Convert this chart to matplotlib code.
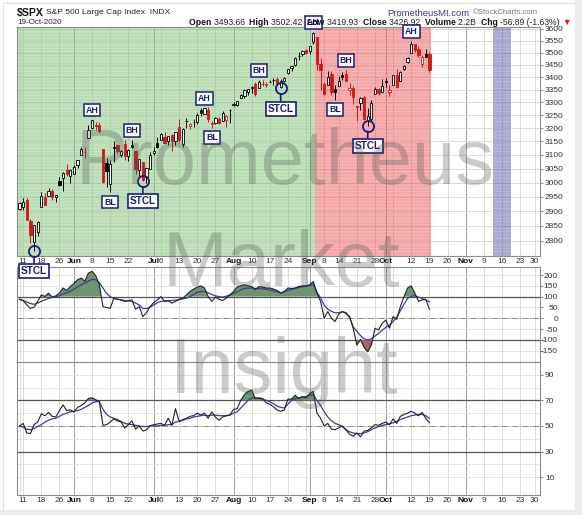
import numpy as np
import pandas as pd
import matplotlib
matplotlib.use("Agg")
import matplotlib.pyplot as plt
from matplotlib.patches import Rectangle
from matplotlib.ticker import FixedLocator, NullLocator

plt.rcParams['font.family'] = ['Liberation Sans', 'DejaVu Sans']
plt.rcParams['hatch.linewidth'] = 0.6

W, H = 582, 515

# trading calendar (data ends 19-Oct, axis runs on to 30-Nov)
holidays = ["2020-05-25", "2020-07-03", "2020-09-07", "2020-11-26"]
days = pd.bdate_range("2020-05-08", "2020-11-30", freq="C", holidays=holidays)

opens = [2908.83, 2915.46, 2939.50, 2865.86, 2794.54, 2829.95, 2913.86, 2948.59, 2953.63, 2969.95, 2948.05, 3004.08, 3015.65, 3046.61, 3025.17,
         3031.48, 3064.78, 3098.90, 3111.56, 3163.84, 3199.92, 3213.32, 3213.42, 3123.53, 3071.04, 2993.76, 3131.00, 3136.13, 3101.64, 3140.29, 3094.42, 3138.70, 3114.40, 3046.60, 3073.20, 3018.59, 3050.20,
         3105.92, 3143.64, 3155.29, 3166.44, 3153.07, 3176.17, 3152.47, 3205.08, 3141.11, 3225.98, 3208.36, 3224.21, 3224.29, 3268.52, 3254.86, 3271.64, 3218.58, 3219.84, 3234.27, 3227.22, 3231.76, 3270.45,
         3288.26, 3289.92, 3317.37, 3323.17, 3340.05, 3356.04, 3370.34, 3355.46, 3372.95, 3368.66, 3380.86, 3387.04, 3392.51, 3360.48, 3386.01, 3418.09, 3435.95, 3449.97, 3485.14, 3494.69, 3509.73,
         3507.44, 3543.76, 3564.74, 3453.60, 3371.88, 3369.82, 3412.56, 3352.70, 3363.56, 3407.73, 3411.23, 3346.86, 3357.38, 3285.57, 3295.75, 3320.11, 3226.14, 3236.66, 3333.90, 3350.92, 3341.21,
         3385.87, 3338.94, 3367.27, 3408.74, 3384.56, 3434.28, 3459.67, 3500.02, 3534.01, 3515.47, 3453.72, 3493.50, 3493.66]
highs = [2932.16, 2944.25, 2945.82, 2874.14, 2852.80, 2865.01, 2968.09, 2964.21, 2980.29, 2978.50, 2956.76, 3021.72, 3036.25, 3068.67, 3049.17,
         3062.18, 3081.07, 3130.94, 3128.91, 3211.72, 3233.13, 3222.71, 3223.27, 3123.53, 3088.42, 3079.76, 3153.45, 3141.16, 3120.00, 3155.53, 3120.92, 3154.90, 3115.01, 3086.25, 3073.73, 3053.89, 3111.51,
         3128.44, 3165.81, 3182.59, 3184.15, 3171.80, 3179.78, 3186.82, 3235.32, 3200.95, 3238.28, 3220.39, 3233.52, 3258.61, 3277.29, 3279.32, 3279.99, 3227.26, 3241.43, 3243.72, 3264.74, 3250.92, 3272.17,
         3302.73, 3306.84, 3330.77, 3351.03, 3352.54, 3363.29, 3381.01, 3387.89, 3387.24, 3378.51, 3387.59, 3395.06, 3399.54, 3390.80, 3399.96, 3432.09, 3444.21, 3481.07, 3501.38, 3509.23, 3514.77,
         3528.03, 3588.11, 3564.85, 3479.15, 3379.97, 3424.77, 3425.55, 3368.95, 3402.93, 3419.48, 3428.92, 3375.17, 3362.27, 3285.57, 3320.31, 3323.35, 3278.70, 3306.88, 3360.74, 3357.92, 3393.56,
         3397.18, 3369.10, 3409.57, 3431.56, 3426.26, 3447.28, 3482.34, 3549.85, 3534.01, 3527.94, 3489.08, 3515.76, 3502.42]
lows = [2902.88, 2903.44, 2869.59, 2793.15, 2766.64, 2816.78, 2913.86, 2922.35, 2953.63, 2938.57, 2933.59, 2988.17, 2969.75, 3023.40, 2998.61,
        3031.48, 3051.64, 3098.90, 3090.41, 3163.84, 3196.00, 3193.11, 3181.49, 2999.49, 2984.47, 2965.66, 3076.06, 3108.03, 3093.51, 3083.11, 3079.39, 3127.12, 3032.13, 3024.01, 3004.63, 2999.74, 3047.83,
        3101.17, 3124.52, 3155.29, 3142.93, 3136.53, 3115.70, 3136.22, 3149.43, 3127.66, 3200.76, 3198.59, 3205.65, 3215.16, 3247.77, 3253.10, 3222.66, 3200.05, 3214.25, 3216.17, 3227.22, 3204.13, 3220.26,
        3284.53, 3286.37, 3317.37, 3318.14, 3328.72, 3335.44, 3326.44, 3355.46, 3363.35, 3361.64, 3379.22, 3370.15, 3369.66, 3354.69, 3379.31, 3413.13, 3425.84, 3444.15, 3468.35, 3484.32, 3493.25,
        3494.60, 3535.23, 3427.41, 3349.63, 3329.27, 3366.84, 3329.25, 3310.47, 3363.56, 3389.25, 3384.45, 3328.82, 3292.40, 3229.10, 3270.95, 3232.57, 3209.45, 3228.44, 3332.91, 3327.54, 3340.47,
        3361.39, 3323.69, 3367.27, 3354.54, 3384.56, 3428.15, 3458.07, 3499.61, 3500.86, 3480.55, 3440.89, 3480.45, 3419.93]
closes = [2929.80, 2930.32, 2870.12, 2820.00, 2852.50, 2863.70, 2953.91, 2922.94, 2971.61, 2948.51, 2955.45, 2991.77, 3036.13, 3029.73, 3044.31,
          3055.73, 3080.82, 3122.87, 3112.35, 3193.93, 3232.39, 3207.18, 3190.14, 3002.10, 3041.31, 3066.59, 3124.74, 3113.49, 3115.34, 3097.74, 3117.86, 3131.29, 3050.33, 3083.76, 3009.05, 3053.24, 3100.29,
          3115.86, 3130.01, 3179.72, 3145.32, 3169.94, 3152.05, 3185.04, 3155.22, 3197.52, 3226.56, 3215.57, 3224.73, 3251.84, 3257.30, 3276.02, 3235.66, 3215.63, 3239.41, 3218.44, 3258.44, 3246.22, 3271.12,
          3294.61, 3306.51, 3327.77, 3349.16, 3351.28, 3360.47, 3333.69, 3380.35, 3373.43, 3372.85, 3381.99, 3389.78, 3374.85, 3385.51, 3397.16, 3431.28, 3443.62, 3478.73, 3484.55, 3508.01, 3500.31,
          3526.65, 3580.84, 3455.06, 3426.96, 3331.84, 3398.96, 3339.19, 3340.97, 3383.54, 3401.20, 3385.49, 3357.01, 3319.47, 3281.06, 3315.57, 3236.92, 3246.59, 3298.46, 3351.60, 3335.47, 3363.00,
          3380.80, 3348.42, 3408.60, 3360.97, 3419.44, 3446.83, 3477.14, 3534.22, 3511.93, 3488.67, 3483.34, 3483.81, 3426.92]
prev_close = 2881.19

cci = [88, 82, 62, 46, 51, 78, 108, 101, 116, 98, 104, 116, 140, 129, 147, 160, 178, 186, 171, 209, 217, 197, 155, 54, 50, 46, 93, 88, 85, 78,
       82, 85, 42, 54, 8, 26, 54, 73, 85, 100, 78, 82, 70, 78, 88, 93, 108, 124, 135, 144, 150, 140, 101, 78, 98, 88, 82, 93, 108, 124,
       144, 150, 155, 150, 147, 132, 147, 144, 140, 140, 135, 129, 116, 124, 140, 138, 140, 147, 150, 150, 155, 170, 116, 78, 0, 31, 0, -15, 20, 31,
       26, 8, -46, -124, -98, -135, -155, -124, -46, -54, -23, -8, -46, 8, -5, 54, 100, 140, 150, 116, 78, 85, 88, 42]
cci_avg = [88, 82, 75, 68, 65, 70, 78, 85, 92, 96, 100, 104, 112, 118, 124, 135, 145, 155, 162, 172, 180, 178, 165, 140, 115, 100, 92, 88, 85, 82,
           80, 78, 70, 62, 45, 45, 52, 62, 72, 78, 80, 81, 82, 84, 86, 90, 93, 100, 110, 120, 124, 124, 118, 110, 104, 100, 98, 102, 108, 115,
           122, 132, 138, 140, 140, 138, 137, 136, 135, 130, 126, 122, 118, 122, 128, 133, 138, 142, 145, 148, 150, 155, 120, 95, 60, 42, 32, 25, 26, 30,
           22, 5, -40, -60, -80, -95, -100, -95, -82, -70, -55, -42, -32, -15, 5, 35, 65, 92, 102, 104, 98, 92, 85, 76]
rsi = [50, 52, 44.5, 44, 51, 53, 59.5, 58, 60.5, 57.5, 57, 62, 66.5, 62, 62.5, 61, 64.5, 66, 68, 71.5, 72, 70.5, 69, 50.5, 51, 53, 55.5, 54, 53, 48.5,
       51, 54, 47.5, 50, 46, 47, 50, 51, 51.5, 52, 50.5, 56, 50.5, 63.5, 53.5, 55, 56, 57.5, 58, 60, 58.5, 60, 56, 61, 57, 54.5, 57, 58, 58.5, 63,
       63.5, 70, 74.5, 77, 78, 71.5, 72, 71.5, 68, 67, 65, 62.5, 61.5, 62.5, 71, 71, 74, 71.5, 73, 72, 75.5, 77, 60, 56, 50, 52, 47.5, 47, 48.5, 50,
       47, 43.5, 42, 44.5, 41.5, 46, 46.5, 48.5, 51, 50.5, 52, 53, 51, 55.5, 52, 57.5, 59, 60, 61.5, 60, 58, 60.5, 56, 52.5]
rsi_avg = [50, 49, 47.5, 47, 48, 49.5, 51, 53, 54.5, 55.5, 56, 57.5, 59, 60, 61, 61.5, 62, 63, 64.5, 66, 68, 69, 69, 63, 59, 57, 56, 55, 53.5, 52,
           51.5, 51, 50.5, 50, 49.5, 49.5, 50, 50, 50, 50.5, 50.5, 51, 51, 53, 53.5, 54.5, 55.5, 56, 57, 57.5, 58, 58.5, 58, 58.5, 58.5, 58, 58, 58, 58.5, 60,
           61, 64, 67, 70, 72, 72, 71.5, 71, 70, 69, 67.5, 65.5, 64.5, 64, 67, 70, 71.5, 72, 72.5, 73, 74, 74.5, 70, 66, 61, 57, 54, 52, 51, 49.5,
           47, 45.5, 44.5, 44, 44, 44.5, 45.5, 47, 48.5, 49.5, 50.5, 51, 51.5, 52.5, 53.5, 55, 56, 57, 58, 58.5, 59, 59, 58, 56]

# chart notes: label, date of the bar it points at
notes = [("STCL", "2020-05-14"), ("AH", "2020-06-08"), ("BL", "2020-06-15"), ("BH", "2020-06-23"),
         ("STCL", "2020-06-26"), ("AH", "2020-07-22"), ("BL", "2020-07-24"), ("BH", "2020-08-12"),
         ("STCL", "2020-08-20"), ("AH", "2020-09-02"), ("BL", "2020-09-11"), ("BH", "2020-09-16"),
         ("STCL", "2020-09-24"), ("AH", "2020-10-12")]

# shaded periods
green_span = ("2020-05-08", "2020-09-02")
red_span = ("2020-09-03", "2020-10-19")
blue_span = ("2020-11-12", "2020-11-18")

week_labels = ["2020-05-11", "2020-05-18", "2020-05-26", "2020-06-08", "2020-06-15", "2020-06-22", "2020-07-06",
               "2020-07-13", "2020-07-20", "2020-07-27", "2020-08-10", "2020-08-17", "2020-08-24", "2020-09-08",
               "2020-09-14", "2020-09-21", "2020-09-28", "2020-10-12", "2020-10-19", "2020-10-26", "2020-11-09",
               "2020-11-16", "2020-11-23", "2020-11-30"]
month_labels = ["2020-06-01", "2020-07-01", "2020-08-03", "2020-09-01", "2020-10-01", "2020-11-02"]
volume_txt = "2.2B"

n = len(closes)
ix = lambda s: days.get_loc(pd.Timestamp(s))

fig = plt.figure(figsize=(W / 100, H / 100), dpi=100)
fig.patch.set_facecolor('white')


def box(top, bottom, left=17, right=540):
    return [left / W, 1 - bottom / H, (right - left) / W, (bottom - top) / H]


ax1 = fig.add_axes(box(27, 256))
ax2 = fig.add_axes(box(267, 362))
ax3 = fig.add_axes(box(362, 495))
ax1.set_zorder(3)

xlim = (-0.7, len(days) + 0.5)
week_pos = [i for i in range(len(days)) if i == 0 or days[i].weekday() < days[i - 1].weekday()]
month_pos = [i for i in range(1, len(days)) if days[i].month != days[i - 1].month]

for ax in (ax1, ax2, ax3):
    ax.set_xlim(*xlim)
    for x in week_pos:
        ax.axvline(x, color='#d6d6d6', lw=0.6, zorder=1)
    for x in month_pos:
        ax.axvline(x, color='#a0a0a0', lw=0.7, zorder=1)
    for s in ax.spines.values():
        s.set_color('#8c8c8c')
        s.set_linewidth(0.8)
    ax.yaxis.tick_right()
    ax.tick_params(axis='y', length=2.5, width=0.6, color='#777', labelsize=6, labelcolor='#333', pad=1)
    ax.tick_params(axis='x', length=0, labelsize=6, labelcolor='#333', pad=1.5)

# ---- price panel
ax1.set_yscale('log')
ax1.set_ylim(2750, 3608)
pticks = np.arange(2800, 3601, 50)
ax1.yaxis.set_major_locator(FixedLocator(pticks))
ax1.yaxis.set_minor_locator(NullLocator())
ax1.set_yticklabels([str(p) for p in pticks])
for p in pticks:
    ax1.axhline(p, color='#d6d6d6', lw=0.6, zorder=1)

for (a, b), col in [(green_span, (0.47, 0.75, 0.43)), (red_span, (0.93, 0.32, 0.32)), (blue_span, (0.33, 0.33, 0.66))]:
    x0, x1 = ix(a) - 0.5, ix(b) + 0.5
    if a == green_span[0]:
        x0 = xlim[0]
    ax1.axvspan(x0, x1, facecolor=col, alpha=0.5, lw=0, zorder=2)
    ax1.axvspan(x0, x1, facecolor='none', edgecolor=(1, 1, 1, 0.22), hatch='-----', lw=0, zorder=2)

wd = 0.62
for i in range(n):
    o, h, l, c = opens[i], highs[i], lows[i], closes[i]
    pc = prev_close if i == 0 else closes[i - 1]
    col = '#000000' if c >= pc else '#cc1a1a'
    ax1.vlines(i, l, h, color=col, lw=0.7, zorder=3)
    face = 'white' if c > o else col
    lo, hi = min(o, c), max(o, c)
    if hi - lo < 1.0:
        hi = lo + 1.0
    ax1.add_patch(Rectangle((i - wd / 2, lo), wd, hi - lo, facecolor=face, edgecolor=col, lw=0.6, zorder=4))

navy = '#1c1c78'
for label, d in notes:
    i = ix(d)
    if label in ("AH", "BH"):
        ax1.annotate(label, (i, highs[i]), xytext=(0, 6.8), textcoords='offset points', ha='center', va='center',
                     fontsize=6.3, fontweight='bold', color=navy, zorder=7, annotation_clip=False,
                     bbox=dict(boxstyle='square,pad=0.22', fc='white', ec=navy, lw=1.1))
    elif label == "BL":
        ax1.annotate(label, (i, lows[i]), xytext=(0, -7.0), textcoords='offset points', ha='center', va='center',
                     fontsize=6.3, fontweight='bold', color=navy, zorder=7, annotation_clip=False,
                     bbox=dict(boxstyle='square,pad=0.22', fc='white', ec=navy, lw=1.1))
    else:
        ax1.plot(i, lows[i], marker='o', ms=8, mfc='none', mec=navy, mew=1.3, zorder=7, clip_on=False)
        ax1.annotate(label, (i, lows[i]), xytext=(0, -14.5), textcoords='offset points', ha='center', va='center',
                     fontsize=7.2, fontweight='bold', color=navy, zorder=7, annotation_clip=False,
                     bbox=dict(boxstyle='square,pad=0.2', fc='white', ec=navy, lw=1.2),
                     arrowprops=dict(arrowstyle='-', color=navy, lw=1.2, shrinkA=0, shrinkB=4))

# ---- CCI panel
idx = np.arange(n)
cci_a = np.array(cci, float)
ax2.set_ylim(-202, 237)
cticks = [200, 150, 100, 50, 0, -50, -100, -150]
ax2.set_yticks(cticks)
ax2.set_yticklabels([str(v) for v in cticks])
ax2.tick_params(axis='y', pad=10.5)
for t in ax2.get_yticklabels():
    t.set_horizontalalignment('right')
for v in cticks:
    ax2.axhline(v, color='#dedede', lw=0.6, zorder=1)
ax2.axhline(100, color='#555555', lw=0.9, zorder=2)
ax2.axhline(-100, color='#555555', lw=0.9, zorder=2)
ax2.axhline(0, color='#8a8a8a', lw=0.7, ls='-.', zorder=2)
ax2.fill_between(idx, cci_a, 100, where=cci_a > 100, interpolate=True, color='#6f9270', lw=0, zorder=3)
ax2.fill_between(idx, cci_a, -100, where=cci_a < -100, interpolate=True, color='#a8606c', lw=0, zorder=3)
ax2.plot(idx, cci_avg, color='#3c3c98', lw=0.9, zorder=4)
ax2.plot(idx, cci_a, color='#222222', lw=0.8, zorder=5)
ax2.set_xticks([])

# ---- RSI panel
rsi_a = np.array(rsi, float)
ax3.set_ylim(-4, 100)
ax3.set_yticks([90, 70, 50, 30, 10])
ax3.set_yticklabels(['90', '70', '50', '30', '10'])
for v in range(10, 100, 10):
    ax3.axhline(v, color='#e0e0e0', lw=0.6, zorder=1)
ax3.axhline(70, color='#555555', lw=0.9, zorder=2)
ax3.axhline(30, color='#555555', lw=0.9, zorder=2)
ax3.axhline(50, color='#8a8a8a', lw=0.7, ls='-.', zorder=2)
ax3.fill_between(idx, rsi_a, 70, where=rsi_a > 70, interpolate=True, color='#6f9270', lw=0, zorder=3)
ax3.fill_between(idx, rsi_a, 30, where=rsi_a < 30, interpolate=True, color='#a8606c', lw=0, zorder=3)
ax3.plot(idx, rsi_avg, color='#3c3c98', lw=0.9, zorder=4)
ax3.plot(idx, rsi_a, color='#222222', lw=0.8, zorder=5)

# x labels under price and RSI panels
tick_pos = [ix(d) for d in week_labels] + [ix(d) for d in month_labels]
tick_txt = [str(pd.Timestamp(d).day) for d in week_labels] + [pd.Timestamp(d).strftime('%b') for d in month_labels]
for ax in (ax1, ax3):
    ax.set_xticks(tick_pos)
    ax.set_xticklabels(tick_txt)
    for k, t in enumerate(ax.get_xticklabels()):
        if k >= len(week_labels):
            t.set_fontweight('bold')
            t.set_color('#111')

# ---- header
def fx(x):
    return x / W


def fy(y):
    return 1 - y / H


fig.text(fx(17), fy(13), "$SPX", fontsize=7.6, fontweight='bold', va='center', color='#111')
fig.text(fx(46), fy(13), "S&P 500 Large Cap Index  INDX", fontsize=6.1, va='center', color='#222')
fig.text(fx(17), fy(22.5), "19-Oct-2020", fontsize=5.8, va='center', color='#222')
fig.text(fx(387), fy(13), "PrometheusMI.com", fontsize=6.8, va='center', color='#3a3a8c')
fig.text(fx(473), fy(13), "\u00a9StockCharts.com", fontsize=5.6, va='center', color='#777')

chg = closes[-1] - closes[-2]
pct = chg / closes[-2] * 100
pieces = [("Open ", 'bold', '#111'), ("%.2f  " % opens[-1], 'normal', '#222'),
          ("High ", 'bold', '#111'), ("%.2f  " % highs[-1], 'normal', '#222'),
          ("Low ", 'bold', '#111'), ("%.2f  " % lows[-1], 'normal', '#222'),
          ("Close ", 'bold', '#111'), ("%.2f  " % closes[-1], 'normal', '#222'),
          ("Volume ", 'bold', '#111'), (volume_txt + "  ", 'normal', '#222'),
          ("Chg ", 'bold', '#111'), ("%.2f (%.2f%%) " % (chg, pct), 'normal', '#222'),
          ("\u25bc", 'normal', '#cc1a1a')]
renderer = fig.canvas.get_renderer()
xpos = 189
for s, wgt, col in pieces:
    t = fig.text(fx(xpos), fy(22.5), s, fontsize=6.2, fontweight=wgt, color=col, va='center')
    xpos += t.get_window_extent(renderer).width

# watermark
for word, cx, by in [("Prometheus", 285, 184), ("Market", 281, 286), ("Insight", 284, 393)]:
    fig.text(fx(cx), fy(by), word, fontsize=56, color='#555555', alpha=0.3, ha='center', va='baseline', zorder=20)

# outer frame
fig.patches.append(Rectangle((575 / W, 0), 1, 1, transform=fig.transFigure, color='#ececec', zorder=-1))
fig.patches.append(Rectangle((0, 0), 1, 5 / H, transform=fig.transFigure, color='#ececec', zorder=-1))
fig.lines.append(plt.Line2D([3 / W, 575 / W], [fy(2.5), fy(2.5)], transform=fig.transFigure, color='#e2e2e2', lw=0.8))
fig.lines.append(plt.Line2D([3 / W, 3 / W], [5 / H, fy(2.5)], transform=fig.transFigure, color='#e2e2e2', lw=0.8))

fig.savefig("out.png", dpi=100, facecolor=fig.get_facecolor())
